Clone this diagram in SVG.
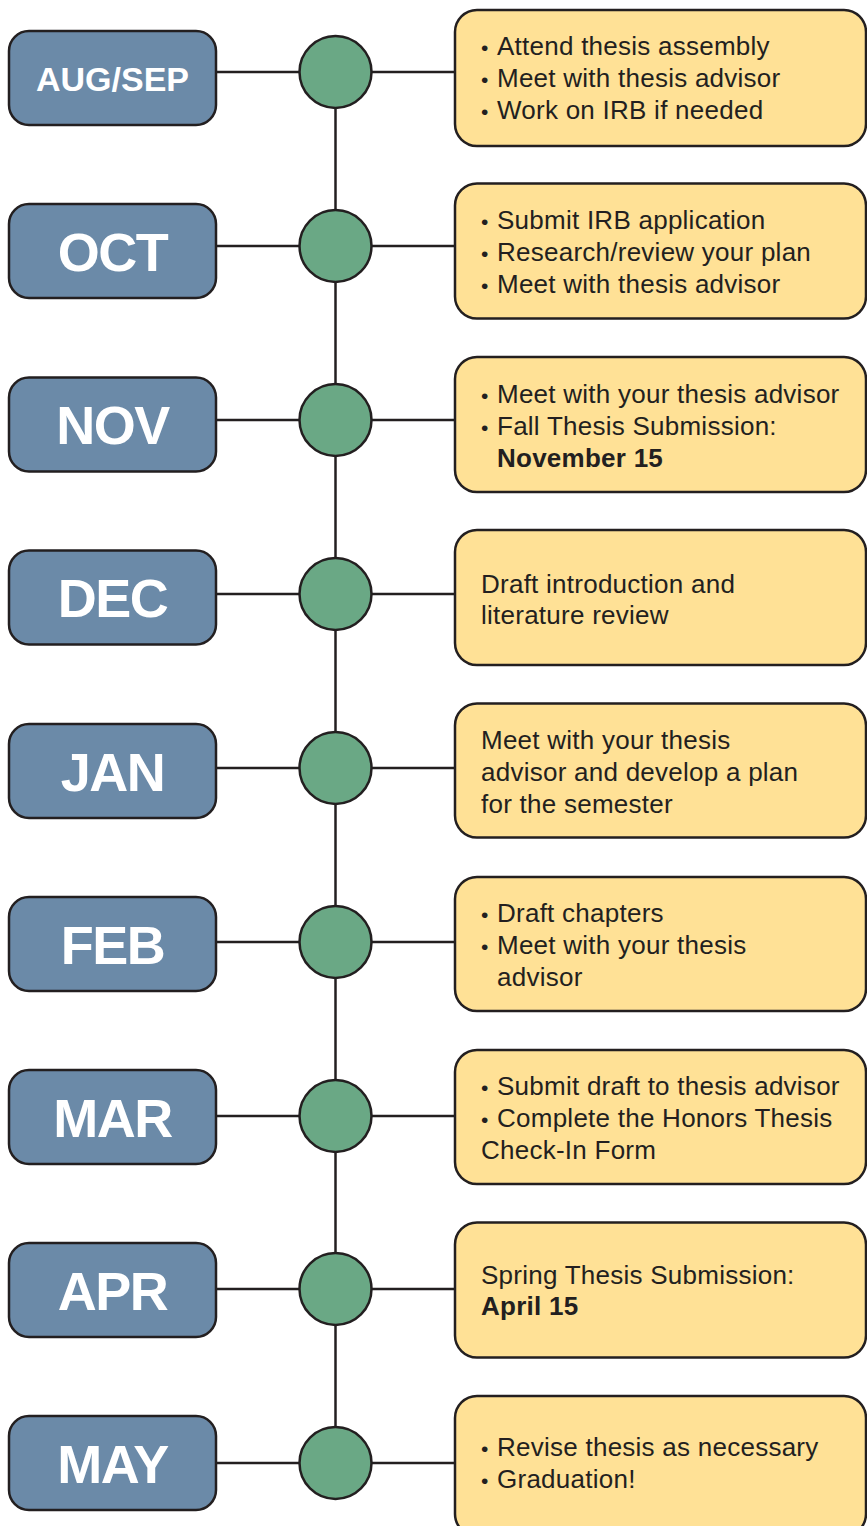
<svg xmlns="http://www.w3.org/2000/svg" width="867" height="1526" viewBox="0 0 867 1526">
<style>
.mon{fill:#6B8AA8;stroke:#231F20;stroke-width:2.5}
.dot{fill:#6AA885;stroke:#231F20;stroke-width:2.5}
.box{fill:#FFE196;stroke:#231F20;stroke-width:2.5}
.ml{font-family:"Liberation Sans",Arial,sans-serif;font-weight:bold;font-size:54px;fill:#fff;text-anchor:middle;letter-spacing:-1.5px}
.tx{font-family:"Liberation Sans",Arial,sans-serif;font-size:26px;fill:#231F20;letter-spacing:0.25px}
.bu{font-size:21px}
.b{font-weight:bold}
.ln{stroke:#231F20;stroke-width:2.5;fill:none}
</style>
<rect width="867" height="1526" fill="#fff"/>
<g id="connectors">
<line class="ln" x1="335.5" y1="72" x2="335.5" y2="1463"/>
<line class="ln" x1="216" y1="72" x2="455" y2="72"/>
<line class="ln" x1="216" y1="246" x2="455" y2="246"/>
<line class="ln" x1="216" y1="420" x2="455" y2="420"/>
<line class="ln" x1="216" y1="594" x2="455" y2="594"/>
<line class="ln" x1="216" y1="768" x2="455" y2="768"/>
<line class="ln" x1="216" y1="942" x2="455" y2="942"/>
<line class="ln" x1="216" y1="1116" x2="455" y2="1116"/>
<line class="ln" x1="216" y1="1289" x2="455" y2="1289"/>
<line class="ln" x1="216" y1="1463" x2="455" y2="1463"/>
</g>
<g id="row-augsep">
<rect class="mon" x="9" y="31" width="207" height="94" rx="20"/>
<text class="ml" x="112.5" y="91" style="font-size:34px;letter-spacing:0">AUG/SEP</text>
<circle class="dot" cx="335.5" cy="72" r="36"/>
<rect class="box" x="455" y="10" width="411" height="136" rx="22"/>
<text class="tx" x="481" y="55"><tspan class="bu">•</tspan><tspan x="497">Attend thesis assembly</tspan></text>
<text class="tx" x="481" y="87"><tspan class="bu">•</tspan><tspan x="497">Meet with thesis advisor</tspan></text>
<text class="tx" x="481" y="119"><tspan class="bu">•</tspan><tspan x="497">Work on IRB if needed</tspan></text>
</g>
<g id="row-oct">
<rect class="mon" x="9" y="204" width="207" height="94" rx="20"/>
<text class="ml" x="112.5" y="270.5">OCT</text>
<circle class="dot" cx="335.5" cy="246" r="36"/>
<rect class="box" x="455" y="183.5" width="411" height="135" rx="22"/>
<text class="tx" x="481" y="229"><tspan class="bu">•</tspan><tspan x="497">Submit IRB application</tspan></text>
<text class="tx" x="481" y="261"><tspan class="bu">•</tspan><tspan x="497">Research/review your plan</tspan></text>
<text class="tx" x="481" y="293"><tspan class="bu">•</tspan><tspan x="497">Meet with thesis advisor</tspan></text>
</g>
<g id="row-nov">
<rect class="mon" x="9" y="377.5" width="207" height="94" rx="20"/>
<text class="ml" x="112.5" y="444">NOV</text>
<circle class="dot" cx="335.5" cy="420" r="36"/>
<rect class="box" x="455" y="357" width="411" height="135" rx="22"/>
<text class="tx" x="481" y="403"><tspan class="bu">•</tspan><tspan x="497">Meet with your thesis advisor</tspan></text>
<text class="tx" x="481" y="435"><tspan class="bu">•</tspan><tspan x="497">Fall Thesis Submission:</tspan></text>
<text class="tx b" x="497" y="467">November 15</text>
</g>
<g id="row-dec">
<rect class="mon" x="9" y="550.5" width="207" height="94" rx="20"/>
<text class="ml" x="112.5" y="617">DEC</text>
<circle class="dot" cx="335.5" cy="594" r="36"/>
<rect class="box" x="455" y="530" width="411" height="135" rx="22"/>
<text class="tx" x="481" y="592.5">Draft introduction and</text>
<text class="tx" x="481" y="624">literature review</text>
</g>
<g id="row-jan">
<rect class="mon" x="9" y="724" width="207" height="94" rx="20"/>
<text class="ml" x="112.5" y="790.5">JAN</text>
<circle class="dot" cx="335.5" cy="768" r="36"/>
<rect class="box" x="455" y="703.5" width="411" height="134" rx="22"/>
<text class="tx" x="481" y="748.5">Meet with your thesis</text>
<text class="tx" x="481" y="780.5">advisor and develop a plan</text>
<text class="tx" x="481" y="812.5">for the semester</text>
</g>
<g id="row-feb">
<rect class="mon" x="9" y="897" width="207" height="94" rx="20"/>
<text class="ml" x="112.5" y="963.5">FEB</text>
<circle class="dot" cx="335.5" cy="942" r="36"/>
<rect class="box" x="455" y="877" width="411" height="134" rx="22"/>
<text class="tx" x="481" y="922"><tspan class="bu">•</tspan><tspan x="497">Draft chapters</tspan></text>
<text class="tx" x="481" y="954"><tspan class="bu">•</tspan><tspan x="497">Meet with your thesis</tspan></text>
<text class="tx" x="497" y="986">advisor</text>
</g>
<g id="row-mar">
<rect class="mon" x="9" y="1070" width="207" height="94" rx="20"/>
<text class="ml" x="112.5" y="1136.5">MAR</text>
<circle class="dot" cx="335.5" cy="1116" r="36"/>
<rect class="box" x="455" y="1050" width="411" height="134" rx="22"/>
<text class="tx" x="481" y="1095"><tspan class="bu">•</tspan><tspan x="497">Submit draft to thesis advisor</tspan></text>
<text class="tx" x="481" y="1127"><tspan class="bu">•</tspan><tspan x="497">Complete the Honors Thesis</tspan></text>
<text class="tx" x="481" y="1159">Check-In Form</text>
</g>
<g id="row-apr">
<rect class="mon" x="9" y="1243" width="207" height="94" rx="20"/>
<text class="ml" x="112.5" y="1309.5">APR</text>
<circle class="dot" cx="335.5" cy="1289" r="36"/>
<rect class="box" x="455" y="1222.5" width="411" height="135" rx="22"/>
<text class="tx" x="481" y="1283.5">Spring Thesis Submission:</text>
<text class="tx b" x="481" y="1315">April 15</text>
</g>
<g id="row-may">
<rect class="mon" x="9" y="1416" width="207" height="94" rx="20"/>
<text class="ml" x="112.5" y="1482.5">MAY</text>
<circle class="dot" cx="335.5" cy="1463" r="36"/>
<rect class="box" x="455" y="1396" width="411" height="140" rx="22"/>
<text class="tx" x="481" y="1456"><tspan class="bu">•</tspan><tspan x="497">Revise thesis as necessary</tspan></text>
<text class="tx" x="481" y="1488"><tspan class="bu">•</tspan><tspan x="497">Graduation!</tspan></text>
</g>
</svg>
